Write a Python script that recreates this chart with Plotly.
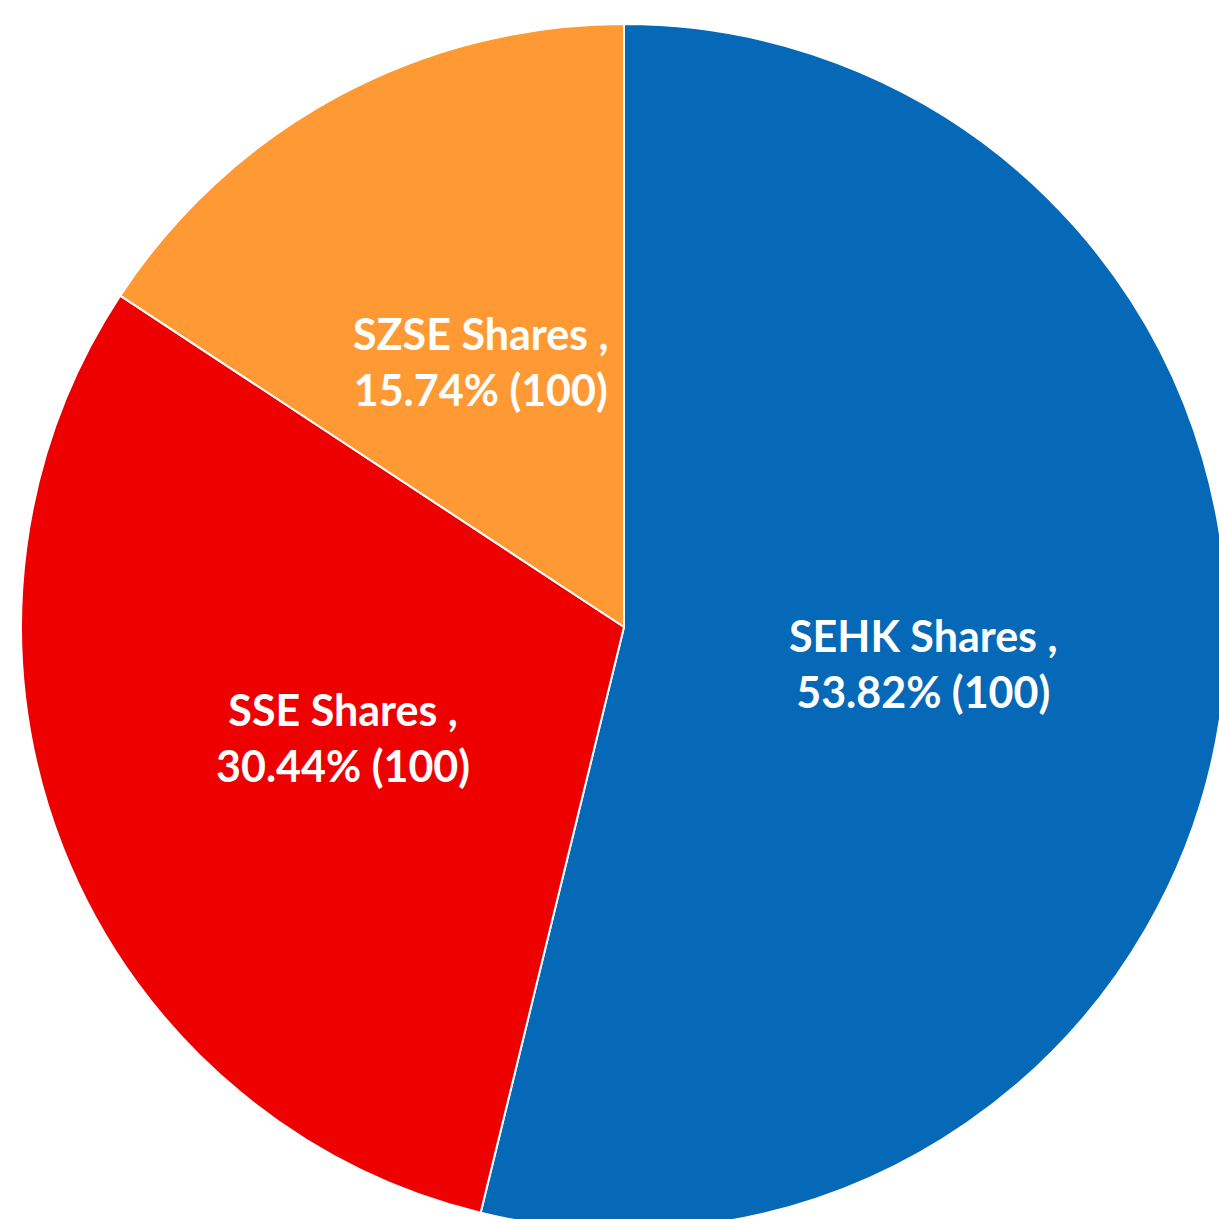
import math
import plotly.graph_objects as go

labels = ["SEHK Shares", "SSE Shares", "SZSE Shares"]
values = [53.82, 30.44, 15.74]
counts = [100, 100, 100]
colors = ["#0569B8", "#EE0000", "#FF9933"]

fig = go.Figure(go.Pie(
    labels=labels,
    values=values,
    sort=False,
    direction="clockwise",
    rotation=0,
    marker=dict(colors=colors, line=dict(color="white", width=2)),
    textinfo="none",
    showlegend=False,
    hoverinfo="skip",
    domain=dict(x=[0, 1], y=[0, 1]),
))

# Data labels placed along each slice bisector at half the radius (Excel style)
total = sum(values)
cum = 0.0
label_r = 0.25  # half radius in paper units (pie radius = 0.5 of square domain)
for lab, val, cnt in zip(labels, values, counts):
    mid = (cum + val / 2) / total * 2 * math.pi
    cum += val
    fig.add_annotation(
        x=0.5 + label_r * math.sin(mid),
        y=0.5 + label_r * math.cos(mid),
        xref="paper", yref="paper",
        text=f"<b>{lab} ,<br>{val:.2f}% ({cnt})</b>",
        showarrow=False,
        font=dict(family="Lato", size=43, color="white"),
        align="center",
        xanchor="center", yanchor="middle",
    )

fig.update_layout(
    width=1227, height=1230,
    margin=dict(l=21, r=0, t=24, b=0),
    paper_bgcolor="white",
    plot_bgcolor="white",
)

fig.write_html(
    "out.html",
    config={"displayModeBar": False},
    post_script=(
        "document.body.style.margin='0';"
        "document.body.style.overflow='hidden';"
        "document.documentElement.style.overflow='hidden';"
    ),
)
